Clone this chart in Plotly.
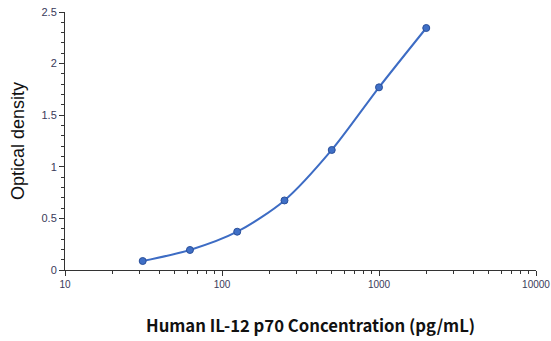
import plotly.graph_objects as go

concentration = [31.25, 62.5, 125, 250, 500, 1000, 2000]
optical_density = [0.087, 0.194, 0.371, 0.674, 1.163, 1.77, 2.345]
x_tick_vals = [10, 100, 1000, 10000]
x_tick_text = ["10", "100", "1000", "10000"]
y_tick_vals = [0, 0.5, 1, 1.5, 2, 2.5]
y_tick_text = ["0", "0.5", "1", "1.5", "2", "2.5"]
x_title = "Human IL-12 p70 Concentration (pg/mL)"
y_title = "Optical density"

line_color = "#3d6cc4"

fig = go.Figure()
fig.add_trace(go.Scatter(
    x=concentration, y=optical_density,
    mode="lines+markers",
    line=dict(color=line_color, width=2, shape="spline", smoothing=0.8),
    marker=dict(size=7, color="#3f6fc6", line=dict(color="#2a4f9a", width=1)),
    showlegend=False,
))

x_tick_font = dict(family="Liberation Sans, Arial, sans-serif", size=10, color="#3a3a5a")
y_tick_font = dict(family="Liberation Sans, Arial, sans-serif", size=11, color="#3a3a5a")

fig.add_annotation(
    text="<b>" + x_title + "</b>",
    xref="paper", yref="paper", x=0.521, y=-0.213,
    xanchor="center", yanchor="middle", showarrow=False,
    font=dict(family="Noto Sans CJK SC, sans-serif", size=16.7, color="#111"),
)

fig.update_layout(
    width=551, height=341,
    margin=dict(l=65, r=15, t=12, b=71),
    paper_bgcolor="white", plot_bgcolor="white",
    xaxis=dict(
        type="log", range=[1, 4], automargin=False,
        tickvals=x_tick_vals, ticktext=x_tick_text,
        ticks="outside", ticklen=5, tickwidth=1, tickcolor="#333",
        showline=True, linecolor="#333", linewidth=1,
        showgrid=False, zeroline=False,
        tickfont=x_tick_font,
        minor=dict(ticks="outside", ticklen=3, tickcolor="#333", dtick="D1", showgrid=False),
    ),
    yaxis=dict(
        range=[0, 2.5], automargin=False,
        tickvals=y_tick_vals, ticktext=y_tick_text,
        ticks="outside", ticklen=5, tickwidth=1, tickcolor="#333",
        showline=True, linecolor="#333", linewidth=1,
        showgrid=False, zeroline=False,
        tickfont=y_tick_font,
        minor=dict(ticks="outside", ticklen=3, tickcolor="#333", dtick=0.1, showgrid=False),
        title=dict(text=y_title,
                   font=dict(family="Liberation Sans, Arial, sans-serif", size=18, color="#111"),
                   standoff=12),
    ),
)

fig.write_html("out.html", config={"displayModeBar": False},
               post_script="document.body.style.margin='0';")
